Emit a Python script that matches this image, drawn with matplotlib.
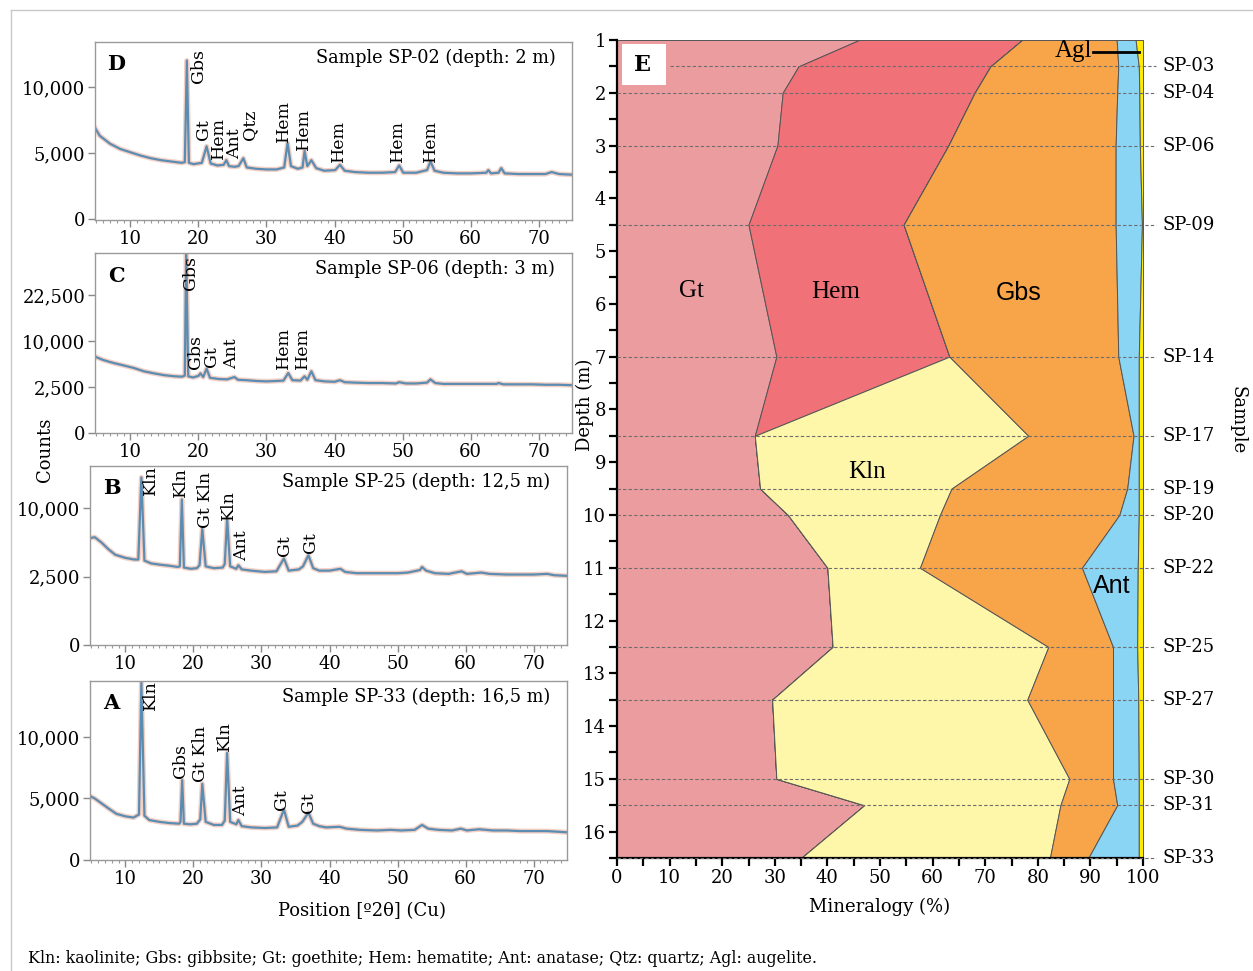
import numpy as np
import matplotlib
matplotlib.use("Agg")
import matplotlib.pyplot as plt
from matplotlib.patches import Rectangle
from matplotlib.lines import Line2D
from matplotlib.ticker import FixedLocator, MultipleLocator

plt.rcParams['font.family'] = ['DejaVu Serif']

# ==========================================================
# XRD patterns (2theta, counts)
# ==========================================================

tt_d = [4.8, 5.5, 7, 8.5, 10, 11.5, 13, 14.5, 16, 17.5, 18.0, 18.3, 18.6, 19.3, 20.5, 21.2, 21.8, 22.8,
        23.7, 24.1, 24.5, 25.3, 25.9, 26.6, 27.1, 28.5, 30, 31.5, 32.6, 33.1, 33.6, 34.6, 35.3, 35.6,
        36.0, 36.6, 37.3, 38.5, 40.1, 40.8, 41.5, 43, 45, 47, 48.9, 49.5, 50.1, 52, 53.6, 54.1, 54.7,
        56, 58, 60, 62.3, 62.6, 63, 64.1, 64.5, 65, 67, 69, 71, 71.9, 73, 74.9]
counts_d = [6900, 6300, 5700, 5300, 5050, 4800, 4600, 4450, 4350, 4250, 4300, 12000, 4250, 4150, 4250,
            5500, 4200, 4050, 4100, 4450, 4000, 3950, 4000, 4600, 3900, 3800, 3750, 3750, 3900, 5750,
            4000, 3800, 3900, 5150, 4000, 4450, 3850, 3650, 3700, 4100, 3650, 3550, 3500, 3500, 3550,
            4050, 3500, 3500, 3700, 4350, 3650, 3500, 3450, 3450, 3500, 3700, 3450, 3500, 3850, 3450,
            3400, 3400, 3400, 3550, 3400, 3350]

tt_c = [4.8, 6, 7.5, 9, 10.5, 12, 13.5, 15, 16.5, 17.6, 18.0, 18.2, 18.5, 19.2, 20.0, 20.3, 20.7, 21.2,
        21.7, 23, 24.2, 25.3, 25.8, 27, 28.5, 30, 31.5, 32.5, 33.2, 33.8, 35, 35.6, 36.0, 36.6, 37.2,
        38.5, 40, 40.8, 41.5, 43, 45, 47, 49, 49.5, 50.5, 52, 53.6, 54.1, 54.8, 56, 58, 60, 62, 63.8,
        64.1, 64.8, 67, 69, 71, 73, 74.9]
counts_c = [6900, 6300, 5800, 5400, 5000, 4500, 4200, 3950, 3800, 3750, 3900, 40000, 3800, 3650, 3850,
            4200, 3700, 4900, 3600, 3450, 3400, 3700, 3350, 3300, 3200, 3150, 3200, 3250, 4250, 3300,
            3250, 3800, 3350, 4500, 3300, 3150, 3100, 3300, 3050, 3000, 2950, 2950, 2900, 3050, 2900,
            2900, 3000, 3400, 2950, 2850, 2850, 2850, 2850, 2850, 2950, 2800, 2800, 2800, 2750, 2750, 2700]

tt_b = [4.8, 5.5, 6.5, 7.5, 8.5, 10, 11.3, 11.9, 12.35, 12.8, 13.8, 15, 16.5, 17.7, 18.0, 18.3, 18.6,
        19.6, 20.5, 20.9, 21.3, 21.8, 23.0, 24.3, 24.6, 24.95, 25.4, 26.3, 26.6, 27.1, 28.5, 30.5, 32.2,
        33.3, 34.0, 35.5, 36.1, 36.9, 37.6, 38.5, 40, 41.6, 42.3, 44, 46, 48, 50, 51.5, 53.3, 53.6, 54.2,
        55.5, 57.5, 59.4, 60.2, 62.3, 63.5, 66, 68, 70, 72, 73, 74.9]
counts_b = [6100, 6200, 5600, 4900, 4350, 4050, 3900, 3900, 15000, 3800, 3550, 3450, 3350, 3250, 3300,
            11300, 3200, 3100, 3150, 3400, 7200, 3300, 3150, 3200, 3500, 8500, 3300, 3100, 3400, 3050,
            2950, 2850, 2900, 4000, 2950, 3050, 3300, 4300, 3150, 2950, 2950, 3100, 2850, 2750, 2750,
            2750, 2750, 2800, 3000, 3250, 2950, 2750, 2700, 2900, 2700, 2800, 2700, 2650, 2650, 2650,
            2700, 2600, 2550]

tt_a = [4.8, 5.5, 6.5, 7.5, 8.7, 10, 11.2, 12.0, 12.35, 12.8, 13.5, 15, 16.5, 17.9, 18.1, 18.35, 18.6,
        19.5, 20.5, 21.0, 21.3, 21.8, 23, 24.2, 24.6, 24.95, 25.4, 26.3, 26.6, 27.1, 28.5, 30.5, 32.3,
        33.3, 34, 35.3, 36.0, 36.9, 37.6, 38.5, 39.5, 41.5, 42.5, 44.5, 47, 49, 50.5, 52.5, 53.6, 54.5,
        56, 58, 59.3, 60.2, 62, 64, 66, 68, 70, 72, 74.9]
counts_a = [5200, 5000, 4600, 4200, 3750, 3550, 3450, 3700, 14400, 3600, 3250, 3100, 3000, 2950, 3100,
            6500, 2950, 2900, 2950, 3300, 6200, 3100, 2850, 2850, 3200, 8700, 3100, 2900, 3250, 2750,
            2650, 2600, 2650, 4100, 2700, 2800, 3100, 3850, 2950, 2750, 2650, 2700, 2550, 2450, 2400,
            2450, 2400, 2450, 2850, 2550, 2450, 2400, 2550, 2400, 2500, 2400, 2400, 2350, 2350, 2350, 2250]

# peak labels: (text, 2theta, counts at label base)
peaks_d = [("Gbs", 20.0, 10300), ("Gt", 20.8, 6000), ("Hem", 23.0, 4550), ("Ant", 25.3, 4550),
           ("Qtz", 27.6, 6000), ("Hem", 32.5, 5830), ("Hem", 35.4, 5230), ("Hem", 40.6, 4320),
           ("Hem", 49.3, 4320), ("Hem", 54.1, 4320)]
peaks_c = [("Gbs", 18.8, 24100), ("Gbs", 19.6, 4900), ("Gt", 21.9, 5200), ("Ant", 24.9, 4900),
           ("Hem", 32.5, 4900), ("Hem", 35.3, 4900)]
peaks_b = [("Kln", 13.7, 12000), ("Kln", 18.1, 11700), ("Gt Kln", 21.8, 7270), ("Kln", 25.1, 8300),
           ("Ant", 27.1, 3800), ("Gt", 33.4, 4190), ("Gt", 37.2, 4480)]
peaks_a = [("Kln", 13.7, 12200), ("Gbs", 18.1, 6670), ("Gt Kln", 21.0, 6340), ("Kln", 24.6, 8860),
           ("Ant", 27.0, 3580), ("Gt", 33.0, 4070), ("Gt", 36.9, 3820)]

# ==========================================================
# Mineralogy profile (%), panel E
# ==========================================================

depths = [1, 1.5, 2, 3, 4.5, 7, 8.5, 9.5, 10, 11, 12.5, 13.5, 15, 15.5, 16.5]
gt = [46, 34.5, 31.5, 30.5, 25, 30.3, 26.2, 27.2, 32.5, 40, 41, 29.5, 30.3, 47, 35]
hem = [31, 36.5, 36.5, 32.5, 29.5, 32.9, 0, 0, 0, 0, 0, 0, 0, 0, 0]
kln = [0, 0, 0, 0, 0, 0, 52, 36.4, 28.9, 17.6, 41, 48.5, 55.7, 37.3, 47.3]
gbs = [18, 24.3, 27.1, 31.8, 40.3, 32.1, 20, 33.4, 34.1, 30.8, 12.3, 16.3, 8.3, 10.8, 7.3]
ant = [3.6, 3.9, 4.2, 4.6, 5, 3.9, 1, 2.2, 3.7, 10.6, 4.6, 4.8, 4.9, 4.1, 9.6]
agl = [1.4, 0.8, 0.7, 0.6, 0.2, 0.8, 0.8, 0.8, 0.8, 1, 1.1, 0.9, 0.8, 0.8, 0.8]

minerals = ["Gt", "Hem", "Kln", "Gbs", "Ant", "Agl"]
mineral_colors = ["#EB9C9F", "#F07177", "#FEF6A9", "#F8A54A", "#8AD4F4", "#FFEA00"]

sample_depths = [1.5, 2, 3, 4.5, 7, 8.5, 9.5, 10, 11, 12.5, 13.5, 15, 15.5, 16.5]
sample_names = ["SP-03", "SP-04", "SP-06", "SP-09", "SP-14", "SP-17", "SP-19", "SP-20",
                "SP-22", "SP-25", "SP-27", "SP-30", "SP-31", "SP-33"]

W, H = 1253, 971
fig = plt.figure(figsize=(W / 100, H / 100), dpi=100)


def px_rect(left, top, right, bottom):
    return [left / W, 1 - bottom / H, (right - left) / W, (bottom - top) / H]


def sqrt_fwd(v):
    return np.sqrt(np.clip(v, 0, None))


def sqrt_inv(v):
    return np.square(v)


# ==========================================================
# XRD panels
# ==========================================================

def draw_xrd(rect, tt, counts, ylim, yticks, use_sqrt, letter, title, peaks):

    ax = fig.add_axes(rect)

    if use_sqrt:
        ax.set_yscale("function", functions=(sqrt_fwd, sqrt_inv))

    ax.plot(tt, counts, color="#E8A08A", lw=3.6, alpha=0.5)
    ax.plot(tt, counts, color="#5B8DB2", lw=1.6)

    ax.set_xlim(4.8, 74.9)
    ax.set_ylim(*ylim)

    ax.xaxis.set_major_locator(FixedLocator([10, 20, 30, 40, 50, 60, 70]))
    ax.xaxis.set_minor_locator(MultipleLocator(1))
    ax.yaxis.set_major_locator(FixedLocator(yticks))
    ax.set_yticklabels([f"{t:,}" for t in yticks])

    ax.tick_params(axis="both", which="major", labelsize=13, color="#888888",
                   length=5, width=1, pad=2)
    ax.tick_params(axis="x", which="minor", color="#999999", length=2.5, width=0.8)
    ax.tick_params(axis="y", which="minor", length=0)

    for s in ax.spines.values():
        s.set_color("#9a9a9a")
        s.set_linewidth(1.0)

    ax.text(0.045, 0.875, letter, transform=ax.transAxes, fontsize=15,
            fontweight="bold", ha="center", va="center")
    ax.text(0.965, 0.91, title, transform=ax.transAxes, fontsize=12.8,
            ha="right", va="center")

    for name, x, y in peaks:
        ax.text(x, y, name, rotation=90, fontsize=12.5, ha="center", va="bottom")

    return ax


draw_xrd(px_rect(95, 42, 572, 220), tt_d, counts_d, (-80, 13400), [0, 5000, 10000], False,
         "D", "Sample SP-02 (depth: 2 m)", peaks_d)
draw_xrd(px_rect(95, 253, 572, 433), tt_c, counts_c, (0, 38300), [0, 2500, 10000, 22500], True,
         "C", "Sample SP-06 (depth: 3 m)", peaks_c)
draw_xrd(px_rect(90, 466, 567, 645), tt_b, counts_b, (0, 17100), [0, 2500, 10000], True,
         "B", "Sample SP-25 (depth: 12,5 m)", peaks_b)
draw_xrd(px_rect(90, 681, 567, 860), tt_a, counts_a, (0, 14550), [0, 5000, 10000], False,
         "A", "Sample SP-33 (depth: 16,5 m)", peaks_a)

fig.text(45 / W, 1 - 450 / H, "Counts", rotation=90, fontsize=13, ha="center", va="center")
fig.text(362 / W, 1 - 911 / H, "Position [º2θ] (Cu)", fontsize=13, ha="center", va="center")

# ==========================================================
# Panel E
# ==========================================================

ax = fig.add_axes(px_rect(617, 40, 1143, 858))

layers = [gt, hem, kln, gbs, ant, agl]
left = np.zeros(len(depths))
for vals, color in zip(layers, mineral_colors):
    right = left + np.array(vals)
    ax.fill_betweenx(depths, left, right, facecolor=color, edgecolor="#555555", linewidth=0.7)
    left = right

ax.set_xlim(0, 100)
ax.set_ylim(16.5, 1)

for d in sample_depths:
    x0 = 10 if d == 1.5 else 0
    ax.plot([x0, 102.5], [d, d], color="#6d6d6d", lw=0.8, ls=(0, (3, 2)), clip_on=False, zorder=3)

for d, name in zip(sample_depths, sample_names):
    ax.text(103.8, d, name, fontsize=13, ha="left", va="center")

ax.add_patch(Rectangle((1, 1.08), 8.3, 0.77, facecolor="white", edgecolor="none", zorder=4))
ax.text(4.8, 1.47, "E", fontsize=16, fontweight="bold", ha="center", va="center", zorder=5)

ax.text(14.1, 5.75, "Gt", fontsize=18, family="Liberation Serif", ha="center", va="center")
ax.text(41.5, 5.78, "Hem", fontsize=18, family="Liberation Serif", ha="center", va="center")
ax.text(76.4, 5.8, "Gbs", fontsize=18, family="Liberation Sans", ha="center", va="center")
ax.text(47.6, 9.18, "Kln", fontsize=18, family="Liberation Serif", ha="center", va="center")
ax.text(94.1, 11.34, "Ant", fontsize=18, family="Liberation Sans", ha="center", va="center")
ax.text(90.3, 1.2, "Agl", fontsize=18, family="Liberation Serif", ha="right", va="center")
ax.plot([90.5, 99.3], [1.22, 1.22], color="black", lw=2, zorder=5)

ax.xaxis.set_major_locator(MultipleLocator(10))
ax.xaxis.set_minor_locator(MultipleLocator(5))
ax.yaxis.set_major_locator(MultipleLocator(1))
ax.yaxis.set_minor_locator(MultipleLocator(0.5))
ax.tick_params(axis="both", which="both", length=6, width=1.6, labelsize=13, pad=2)

for side in ["top", "right"]:
    ax.spines[side].set_visible(False)
for side in ["left", "bottom"]:
    ax.spines[side].set_linewidth(1.6)

ax.set_xlabel("Mineralogy (%)", fontsize=13, labelpad=8)
fig.text(585 / W, 1 - 405 / H, "Depth (m)", rotation=90, fontsize=13, ha="center", va="center")
fig.text(1237 / W, 1 - 420 / H, "Sample", rotation=-90, fontsize=13, ha="center", va="center")

# ==========================================================
# Frame and caption
# ==========================================================

fig.add_artist(Line2D([11 / W, 11 / W], [0, 1 - 10 / H], color="#c8c8c8", lw=1))
fig.add_artist(Line2D([11 / W, 1], [1 - 10 / H, 1 - 10 / H], color="#c8c8c8", lw=1))

fig.text(28 / W, 1 - 958 / H,
         "Kln: kaolinite; Gbs: gibbsite; Gt: goethite; Hem: hematite; Ant: anatase; "
         "Qtz: quartz; Agl: augelite.", fontsize=11.4, ha="left", va="center")

fig.savefig("out.png", dpi=100)
